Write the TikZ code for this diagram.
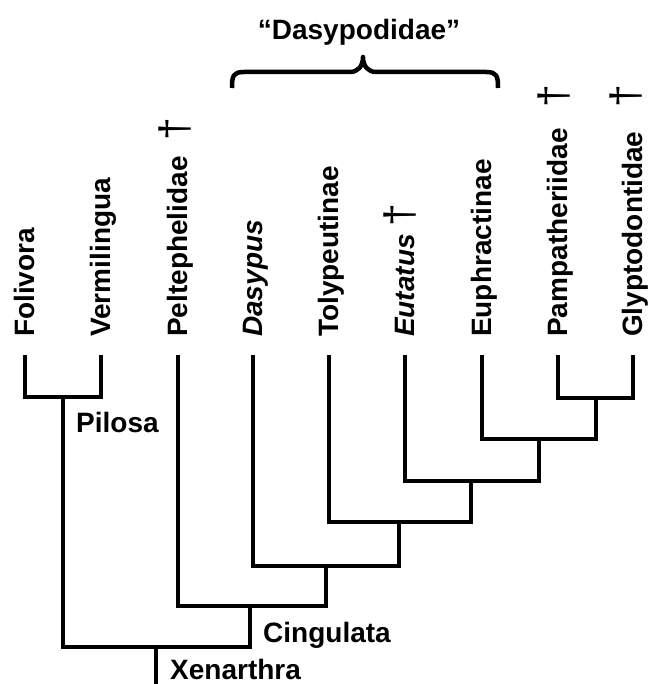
\documentclass[tikz,border=0pt]{standalone}
\usepackage{fontspec}
\setmainfont{Liberation Sans}
\begin{document}
\begin{tikzpicture}[x=1pt,y=-1pt,
  tree/.style={line width=4pt, line join=miter, line cap=butt},
  lab/.style={rotate=90, anchor=base west, inner sep=0pt, font=\fontsize{28}{30}\selectfont\bfseries},
  clade/.style={anchor=base west, inner sep=0pt, font=\fontsize{28}{30}\selectfont\bfseries},
  dagg/.style={rotate=90, inner sep=0pt, font=\fontsize{41}{41}\selectfont}]
\useasboundingbox (0,0) rectangle (648,684);
% tips
\coordinate (fol) at (25,355);
\coordinate (ver) at (101,355);
\coordinate (pel) at (178,355);
\coordinate (das) at (253,355);
\coordinate (tol) at (329,355);
\coordinate (eut) at (405,355);
\coordinate (eup) at (482,355);
\coordinate (pam) at (558,355);
\coordinate (gly) at (633,355);
% internal nodes
\coordinate (pil) at (63,397);
\coordinate (pg) at (596,398);
\coordinate (e1) at (539,439);
\coordinate (e2) at (471,481);
\coordinate (e3) at (399,522);
\coordinate (e4) at (326,566);
\coordinate (cin) at (250,606);
\coordinate (xen) at (156,647);
\coordinate (root) at (156,684);
% branches
\draw[tree] (fol) |- (pil) -| (ver);
\draw[tree] (pam) |- (pg) -| (gly);
\draw[tree] (eup) |- (e1) -| (pg);
\draw[tree] (eut) |- (e2) -| (e1);
\draw[tree] (tol) |- (e3) -| (e2);
\draw[tree] (das) |- (e4) -| (e3);
\draw[tree] (pel) |- (cin) -| (e4);
\draw[tree] (pil) |- (xen) -| (cin);
\draw[tree] (xen) -- (root);
% tip labels
\node[lab] (folL) at (34,337) {Folivora};
\node[lab] (verL) at (110,337) {Vermilingua};
\node[lab] (pelL) at (187,337) {Peltephelidae};
\node[lab] (dasL) at (262,337) {\itshape Dasypus};
\node[lab] (tolL) at (338,337) {Tolypeutinae};
\node[lab] (eutL) at (414,337) {\itshape Eutatus};
\node[lab] (eupL) at (491,337) {Euphractinae};
\node[lab] (pamL) at (567,337) {Pampatheriidae};
\node[lab] (glyL) at (642,337) {Glyptodontidae};
% daggers
\node[dagg] (pelD) at (175,129) {†};
\node[dagg] (eutD) at (400,215) {†};
\node[dagg] (pamD) at (554,96) {†};
\node[dagg] (glyD) at (626,96) {†};
% clade labels
\node[clade] (pilL) at (76,432) {Pilosa};
\node[clade] (cinL) at (263,642) {Cingulata};
\node[clade] (xenL) at (170,679) {Xenarthra};
% brace
\draw[line width=4.5pt, line join=round] (232,88) .. controls (232,76) and (233,72) .. (244,72) -- (350,72)
  .. controls (358,72) and (363,66) .. (363,57) .. controls (363,66) and (368,72) .. (376,72)
  -- (486,72) .. controls (497,72) and (498,76) .. (498,88);
\node[anchor=base, inner sep=0pt, font=\fontsize{28}{30}\selectfont\bfseries] (dasyp) at (359,40) {“Dasypodidae”};
\end{tikzpicture}
\end{document}
